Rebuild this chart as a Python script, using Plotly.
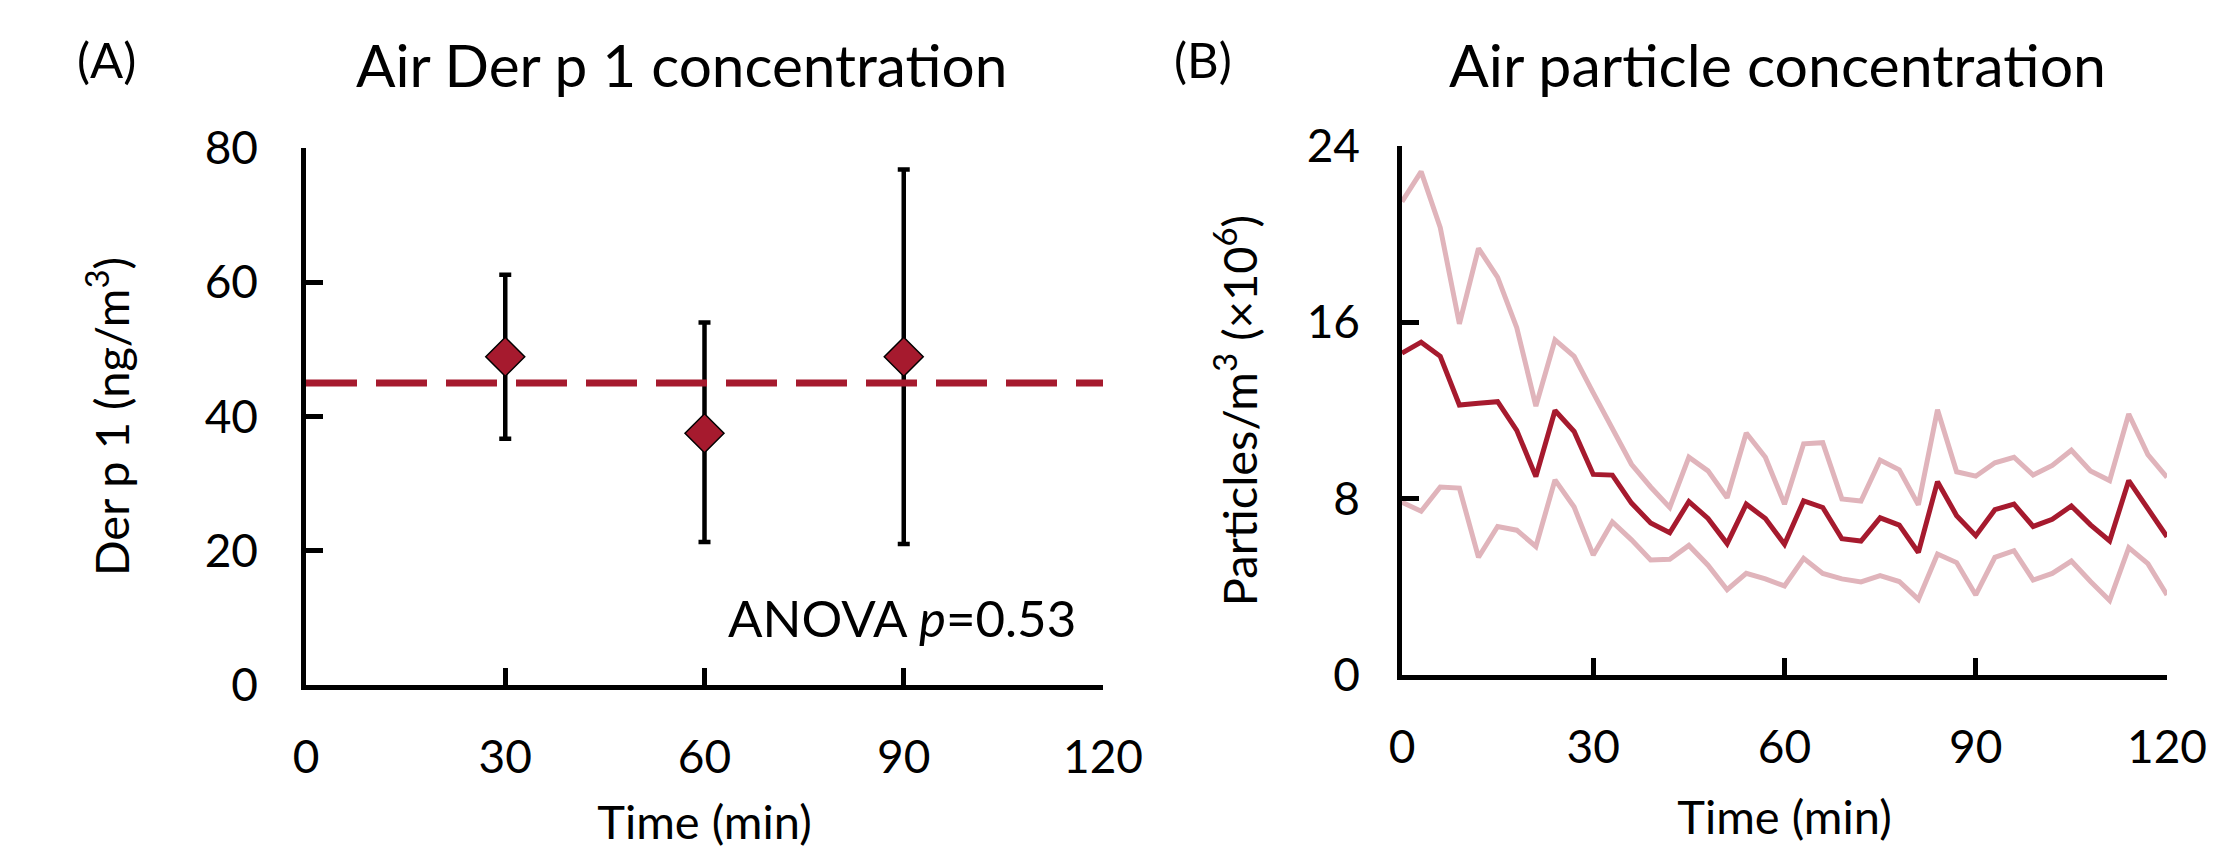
import plotly.graph_objects as go

# ---------------- Panel A data ----------------
times_a = [30, 60, 90]
derp1_mean = [48.9, 37.5, 48.9]
derp1_upper = [61.1, 54.0, 76.8]
derp1_lower = [36.7, 21.3, 21.0]
derp1_overall = 45.0

# ---------------- Panel B data ----------------
times_b = [0, 3, 6, 9, 12, 15, 18, 21, 24, 27, 30, 33, 36, 39, 42, 45, 48, 51, 54, 57,
           60, 63, 66, 69, 72, 75, 78, 81, 84, 87, 90, 93, 96, 99, 102, 105, 108, 111,
           114, 117, 120]
particles_mean = [14.6, 15.1, 14.46, 12.25, 12.33, 12.4, 11.1, 9.0, 12.0, 11.05,
                  9.1, 9.07, 7.8, 6.9, 6.45, 7.87, 7.1, 5.96, 7.75, 7.1,
                  5.93, 7.9, 7.6, 6.18, 6.08, 7.13, 6.8, 5.56, 8.77, 7.23,
                  6.32, 7.5, 7.75, 6.74, 7.06, 7.67, 6.81, 6.08, 8.82, 7.55, 6.27]
particles_upper = [21.47, 22.84, 20.3, 15.93, 19.36, 18.04, 15.76, 12.2, 15.2, 14.46,
                   12.8, 11.2, 9.56, 8.53, 7.6, 9.88, 9.26, 8.04, 10.98, 9.88,
                   7.75, 10.49, 10.54, 7.99, 7.89, 9.75, 9.31, 7.72, 12.03, 9.22,
                   9.02, 9.63, 9.88, 9.07, 9.51, 10.2, 9.26, 8.82, 11.84, 10.0, 8.97]
particles_lower = [7.84, 7.43, 8.53, 8.48, 5.34, 6.74, 6.57, 5.83, 8.85, 7.62,
                   5.44, 6.94, 6.13, 5.22, 5.25, 5.88, 4.98, 3.87, 4.61, 4.36,
                   4.04, 5.29, 4.61, 4.36, 4.22, 4.51, 4.24, 3.43, 5.49, 5.1,
                   3.63, 5.34, 5.64, 4.31, 4.61, 5.17, 4.24, 3.38, 5.78, 5.05, 3.63]

x_ticks = [0, 30, 60, 90, 120]
y_ticks_a = [0, 20, 40, 60, 80]
y_ticks_b = [0, 8, 16, 24]

DARK = "#A61A2E"
PINK = "#E0B4BB"
FONT = "Lato, Carlito, Calibri, sans-serif"
OFF = 8                      # page body margin
W, H = 2219 - OFF, 849 - OFF


def px(x):
    return (x - OFF) / W


def py(y):
    return 1 - (y - OFF) / H


fig = go.Figure()

# Panel A
fig.add_trace(go.Scatter(
    x=times_a, y=derp1_mean, mode="markers",
    marker=dict(symbol="diamond", size=30, color=DARK, line=dict(color="black", width=1.5)),
    error_y=dict(type="data", symmetric=False,
                 array=[u - m for u, m in zip(derp1_upper, derp1_mean)],
                 arrayminus=[m - l for m, l in zip(derp1_mean, derp1_lower)],
                 color="black", thickness=4.5, width=6),
    xaxis="x", yaxis="y", showlegend=False))
fig.add_trace(go.Scatter(
    x=[x_ticks[0], x_ticks[-1]], y=[derp1_overall, derp1_overall], mode="lines",
    line=dict(color=DARK, width=7, dash="51px,19px"),
    xaxis="x", yaxis="y", showlegend=False))

# Panel B
for ys, col in [(particles_upper, PINK), (particles_lower, PINK), (particles_mean, DARK)]:
    fig.add_trace(go.Scatter(x=times_b, y=ys, mode="lines",
                             line=dict(color=col, width=5),
                             xaxis="x2", yaxis="y2", showlegend=False))

axis_common = dict(showline=True, linecolor="black", linewidth=4.5, ticks="inside",
                   ticklen=17, tickwidth=4.5, tickcolor="black", showgrid=False,
                   zeroline=False, automargin=False,
                   tickfont=dict(family=FONT, size=46, color="black"),
                   title_font=dict(family=FONT, size=47, color="black"))

fig.update_layout(
    width=W, height=H, margin=dict(l=0, r=0, t=0, b=0, autoexpand=False),
    paper_bgcolor="white", plot_bgcolor="white",
    xaxis=dict(domain=[px(306), px(1103)], range=[0, 120], tickvals=x_ticks,
               anchor="y", ticklabelstandoff=28, title=dict(text="Time (min)", standoff=38),
               **axis_common),
    yaxis=dict(domain=[py(685), py(148)], range=[0, 80], tickvals=y_ticks_a,
               anchor="x", ticklabelstandoff=34,
               title=dict(text="Der p 1 (ng/m<sup>3</sup>)", standoff=62), **axis_common),
    xaxis2=dict(domain=[px(1402), px(2167)], range=[0, 120], tickvals=x_ticks,
                anchor="y2", ticklabelstandoff=28, title=dict(text="Time (min)", standoff=31),
                **axis_common),
    yaxis2=dict(domain=[py(675), py(146)], range=[0, 24], tickvals=y_ticks_b,
                anchor="x2", ticklabelstandoff=28,
                title=dict(text="Particles/m<sup>3</sup> (×10<sup>6</sup>)", standoff=36),
                **axis_common),
)


def ann(text, x, y, size, xanchor="center", yanchor="middle"):
    fig.add_annotation(text=text, x=px(x), y=py(y), xref="paper", yref="paper",
                       showarrow=False, xanchor=xanchor, yanchor=yanchor,
                       font=dict(family=FONT, size=size, color="black"))


ann("Air Der p 1 concentration", 681, 64, 58.5)
ann("Air particle concentration", 1777, 64, 59)
ann("(A)", 75, 59, 49, xanchor="left")
ann("(B)", 1172, 59, 49, xanchor="left")
ann("ANOVA <i>p</i>=0.53", 1078, 617, 51, xanchor="right")

fig.write_html("out.html")
